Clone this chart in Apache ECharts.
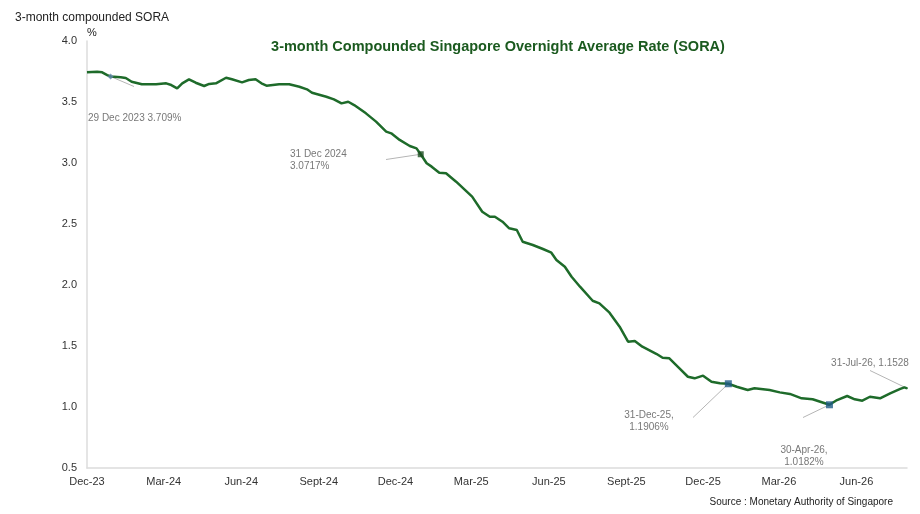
<!DOCTYPE html>
<html>
<head>
<meta charset="utf-8">
<script src="https://cdn.jsdelivr.net/npm/echarts@6/dist/echarts.min.js"></script>
<style>
  html, body { margin: 0; padding: 0; background: #fff; }
  #chart { width: 920px; height: 514px; }
</style>
</head>
<body>
<div id="chart"></div>
<script>
// 3-month compounded SORA
var dates = [
    '2023-12-01', '2023-12-13', '2023-12-19', '2023-12-25', '2023-12-29',
    '2024-01-10', '2024-01-16', '2024-01-23', '2024-02-04', '2024-02-21',
    '2024-03-04', '2024-03-10', '2024-03-17', '2024-03-23', '2024-03-31',
    '2024-04-08', '2024-04-18', '2024-04-24', '2024-05-02', '2024-05-14',
    '2024-05-21', '2024-06-02', '2024-06-10', '2024-06-18', '2024-06-25',
    '2024-07-01', '2024-07-16', '2024-07-28', '2024-08-09', '2024-08-18',
    '2024-08-24', '2024-09-10', '2024-09-19', '2024-09-28', '2024-10-06',
    '2024-10-13', '2024-10-27', '2024-11-08', '2024-11-20', '2024-11-26',
    '2024-12-06', '2024-12-18', '2024-12-26', '2024-12-31', '2025-01-07',
    '2025-01-13', '2025-01-22', '2025-01-30', '2025-02-11', '2025-03-02',
    '2025-03-14', '2025-03-23', '2025-03-29', '2025-04-07', '2025-04-15',
    '2025-04-24', '2025-05-01', '2025-05-13', '2025-05-25', '2025-06-04',
    '2025-06-10', '2025-06-20', '2025-06-28', '2025-07-08', '2025-07-23',
    '2025-07-31', '2025-08-12', '2025-08-24', '2025-09-03', '2025-09-11',
    '2025-09-20', '2025-10-07', '2025-10-14', '2025-10-22', '2025-11-03',
    '2025-11-13', '2025-11-21', '2025-12-01', '2025-12-11', '2025-12-21',
    '2025-12-31', '2026-01-10', '2026-01-23', '2026-01-31', '2026-02-18',
    '2026-03-02', '2026-03-14', '2026-03-28', '2026-04-10', '2026-04-30',
    '2026-05-09', '2026-05-21', '2026-05-30', '2026-06-08', '2026-06-17',
    '2026-06-29', '2026-07-11', '2026-07-23', '2026-07-28', '2026-07-31'
];
var sora = [
    3.743, 3.748, 3.743, 3.721, 3.709,
    3.702, 3.697, 3.666, 3.645, 3.645,
    3.653, 3.639, 3.612, 3.653, 3.686,
    3.658, 3.631, 3.648, 3.653, 3.699,
    3.686, 3.661, 3.680, 3.686, 3.653,
    3.634, 3.645, 3.645, 3.625, 3.604,
    3.576, 3.543, 3.522, 3.489, 3.502,
    3.475, 3.407, 3.339, 3.257, 3.243,
    3.189, 3.139, 3.120, 3.0717, 2.998,
    2.970, 2.920, 2.916, 2.847, 2.724,
    2.601, 2.560, 2.560, 2.519, 2.465,
    2.451, 2.355, 2.328, 2.295, 2.265,
    2.205, 2.150, 2.068, 1.986, 1.871,
    1.850, 1.773, 1.658, 1.535, 1.541,
    1.494, 1.434, 1.404, 1.399, 1.317,
    1.248, 1.235, 1.257, 1.207, 1.194,
    1.1906, 1.166, 1.139, 1.153, 1.139,
    1.120, 1.107, 1.071, 1.063, 1.0182,
    1.057, 1.090, 1.063, 1.052, 1.084,
    1.071, 1.112, 1.148, 1.161, 1.1528
];

// annotated points
var noteDates = ['2023-12-29', '2024-12-31', '2025-12-31', '2026-04-30', '2026-07-31'];
var noteValues = [3.709, 3.0717, 1.1906, 1.0182, 1.1528];
var noteTexts = [
    '29 Dec 2023 3.709%',
    '31 Dec 2024\n3.0717%',
    '31-Dec-25,\n1.1906%',
    '30-Apr-26,\n1.0182%',
    '31-Jul-26, 1.1528'
];

// x tick labels (first day of each quarter month)
var tickDates = [
    '2023-12-01', '2024-03-01', '2024-06-01', '2024-09-01', '2024-12-01', '2025-03-01',
    '2025-06-01', '2025-09-01', '2025-12-01', '2026-03-01', '2026-06-01'
];
var monthNames = ['Jan', 'Feb', 'Mar', 'Apr', 'May', 'Jun', 'Jul', 'Aug', 'Sept', 'Oct', 'Nov', 'Dec'];

function ts(s) {
    var p = s.split('-');
    return Date.UTC(+p[0], +p[1] - 1, +p[2]);
}

var lineData = [];
for (var i = 0; i < dates.length; i++) {
    lineData.push([ts(dates[i]), sora[i]]);
}

var noteStyles = [
    { symbol: 'diamond', size: 6, color: '#5f86a8' },
    { symbol: 'rect', size: 6, color: '#1d4f22' },
    { symbol: 'rect', size: 7, color: '#1f5b86' },
    { symbol: 'rect', size: 7, color: '#1f5b86' },
    { symbol: 'circle', size: 2, color: '#1e6b2a' }
];
// where each annotation text sits (pixels)
var notePos = [
    { x: 88, y: 118, align: 'left' },
    { x: 290, y: 160, align: 'left' },
    { x: 649, y: 421, align: 'center' },
    { x: 804, y: 456, align: 'center' },
    { x: 870, y: 363, align: 'center' }
];
// where each leader line stops (pixels)
var leaderEnds = [
    { x: 134, y: 87 },
    { x: 386, y: 160 },
    { x: 693, y: 418 },
    { x: 803, y: 418 },
    { x: 870, y: 371 }
];

var noteData = [];
var leaderData = [];
for (var j = 0; j < noteDates.length; j++) {
    noteData.push({
        value: [ts(noteDates[j]), noteValues[j]],
        symbol: noteStyles[j].symbol,
        symbolSize: noteStyles[j].size,
        itemStyle: { color: noteStyles[j].color },
        label: {
            show: true,
            formatter: noteTexts[j],
            align: notePos[j].align
        }
    });
    leaderData.push([ts(noteDates[j]), noteValues[j]]);
}

var fontFamily = '"Liberation Sans", Arial, sans-serif';

var options = {
    animation: false,
    textStyle: { fontFamily: fontFamily },
    title: {
        text: '3-month Compounded Singapore Overnight Average Rate (SORA)',
        left: 493,
        top: 34,
        textAlign: 'center',
        textStyle: {
            color: '#1b5a1f',
            fontSize: 14.5,
            fontWeight: 'bold',
            fontFamily: fontFamily
        }
    },
    graphic: [
        {
            type: 'text',
            left: 15,
            top: 12,
            style: { text: '3-month compounded SORA', fill: '#222', font: '12px ' + fontFamily }
        },
        {
            type: 'text',
            left: 87,
            top: 27,
            style: { text: '%', fill: '#222', font: '11px ' + fontFamily }
        },
        {
            type: 'text',
            right: 27,
            top: 497,
            style: { text: 'Source : Monetary Authority of Singapore', fill: '#222', font: '10px ' + fontFamily }
        }
    ],
    grid: {
        left: 87,
        right: 13,
        top: 41,
        bottom: 46
    },
    xAxis: {
        type: 'value',
        min: ts('2023-12-01'),
        max: ts('2026-07-31'),
        axisLine: { show: true, onZero: false, lineStyle: { color: '#dcdcdc', width: 1.5 } },
        axisTick: { show: false },
        splitLine: { show: false },
        axisLabel: {
            customValues: tickDates.map(ts),
            color: '#333',
            fontSize: 11,
            margin: 8,
            formatter: function (v) {
                var d = new Date(v);
                return monthNames[d.getUTCMonth()] + '-' + String(d.getUTCFullYear()).slice(2);
            }
        }
    },
    yAxis: {
        type: 'value',
        min: 0.5,
        max: 4.0,
        interval: 0.5,
        axisLine: { show: true, lineStyle: { color: '#dcdcdc', width: 1.5 } },
        axisTick: { show: false },
        splitLine: { show: false },
        axisLabel: {
            color: '#333',
            fontSize: 11,
            margin: 10,
            formatter: function (v) { return v.toFixed(1); }
        }
    },
    series: [
        {
            name: 'leaders',
            type: 'scatter',
            data: leaderData,
            symbolSize: 0,
            silent: true,
            z: 1,
            label: {
                show: true,
                formatter: ' ',
                fontSize: 1,
                padding: 0
            },
            labelLayout: function (params) {
                var p = leaderEnds[params.dataIndex];
                return { x: p.x, y: p.y, align: 'center', verticalAlign: 'middle' };
            },
            labelLine: {
                show: true,
                lineStyle: { color: '#b5b5b5', width: 1 }
            }
        },
        {
            name: 'SORA',
            type: 'line',
            data: lineData,
            showSymbol: false,
            lineStyle: { color: '#1e6b2a', width: 2.5 },
            z: 2
        },
        {
            name: 'notes',
            type: 'scatter',
            data: noteData,
            z: 3,
            label: {
                color: '#555',
                fontSize: 10,
                lineHeight: 12,
                fontFamily: fontFamily
            },
            labelLayout: function (params) {
                var p = notePos[params.dataIndex];
                return { x: p.x, y: p.y, align: p.align, verticalAlign: 'middle' };
            }
        }
    ]
};

var chart = echarts.init(document.getElementById('chart'));
chart.setOption(options);
</script>
</body>
</html>
